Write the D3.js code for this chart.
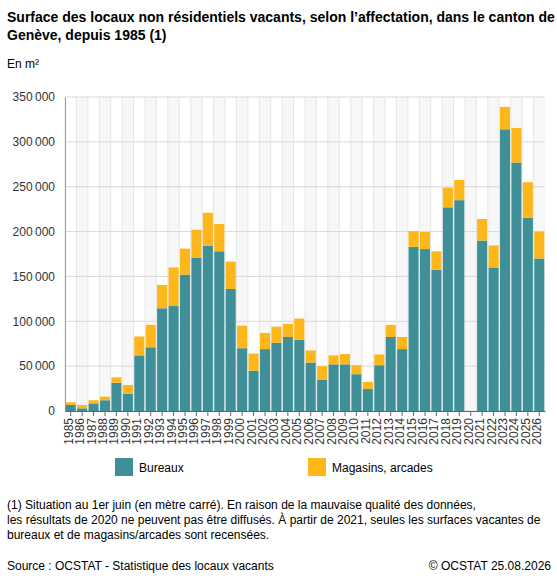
<!DOCTYPE html>
<html><head><meta charset="utf-8">
<script src="https://cdn.jsdelivr.net/npm/d3@7"></script>
<style>
body{margin:0;font-family:"Liberation Sans",Arial,sans-serif;color:#333;}
</style></head><body><div id="chart"></div>
<script>
var years = d3.range(1985, 2027).map(String);
var bureaux =   [6.7,3,8.5,12,31.5,19,62,71,114.5,117,152,171,184,178,136,70,45,69,76,82.5,79.5,54,35,52,52,41,24.5,51,82.5,69,183,180.5,157.5,227,235,null,190,160,314,277,215.5,170];
var magasins = [3,3.7,3.5,4,6,10,21,25,26,43,29,31,37,30.5,30.5,25,19,18,18,14.5,23.5,13.5,15,10,11.5,10,8,12,13.5,13.5,17.5,19,20.5,22,22.5,null,24,24.5,25,38.5,39.5,30];
var yTicks = [0,50000,100000,150000,200000,250000,300000,350000];

var W = 557, H = 582;
var m = {left:65, right:545, top:97, bottom:411};
var svg = d3.select("#chart").append("svg").attr("width", W).attr("height", H)
  .style("font-family", "'Liberation Sans',Arial,sans-serif");

var x = d3.scaleBand().domain(years).range([m.left, m.right]).paddingInner(0.12).paddingOuter(0.06);
var y = d3.scaleLinear().domain([0, 350000]).range([m.bottom, m.top]);
var step = x.step();

// alternating bands + vertical grid
years.forEach(function(yr, i){
  var x0 = m.left + i * (m.right - m.left) / years.length;
  if(i % 2 == 1) svg.append("rect").attr("x", x0).attr("y", m.top).attr("width", (m.right - m.left)/years.length)
    .attr("height", m.bottom - m.top).attr("fill", "#f7f7f7");
  svg.append("line").attr("x1", x0).attr("x2", x0).attr("y1", m.top).attr("y2", m.bottom).attr("stroke", "#e6e6e6");
});
svg.selectAll(".hg").data(yTicks).enter().append("line")
  .attr("x1", m.left).attr("x2", m.right).attr("y1", d => y(d)).attr("y2", d => y(d))
  .attr("stroke", "#d9d9d9");

var fmt = d => d3.format(",")(d).replace(/,/g, "\u202f");
svg.append("g").attr("transform", "translate(" + m.left + ",0)")
  .call(d3.axisLeft(y).tickValues(yTicks).tickFormat(fmt).tickSize(0).tickPadding(10))
  .call(g => g.select(".domain").attr("stroke", "#999"))
  .selectAll("text").attr("font-size", 12).attr("fill", "#333").style("font-family", "inherit");

var data = years.map((yr, i) => ({yr: yr, b: bureaux[i] == null ? 0 : bureaux[i]*1000, m: magasins[i] == null ? 0 : magasins[i]*1000}));
svg.selectAll(".b").data(data).enter().append("rect")
  .attr("x", d => x(d.yr)).attr("width", x.bandwidth())
  .attr("y", d => y(d.b)).attr("height", d => y(0) - y(d.b)).attr("fill", "#3e8f98");
svg.selectAll(".m").data(data).enter().append("rect")
  .attr("x", d => x(d.yr)).attr("width", x.bandwidth())
  .attr("y", d => y(d.b + d.m)).attr("height", d => y(d.b) - y(d.b + d.m)).attr("fill", "#fdb71a");

svg.append("g").attr("transform", "translate(0," + m.bottom + ")")
  .call(d3.axisBottom(x).tickSize(5).tickSizeOuter(0))
  .call(g => g.select(".domain").attr("stroke", "#666"))
  .call(g => g.selectAll(".tick line").attr("stroke", "#666"))
  .selectAll("text").attr("font-size", 12).attr("fill", "#333").style("font-family", "inherit")
  .attr("transform", "rotate(-90)").attr("text-anchor", "end").attr("dx", "-7").attr("dy", "-0.5em");

svg.append("text").attr("x", 7).attr("y", 22).attr("font-size", 14).attr("font-weight", "bold")
  .text("Surface des locaux non résidentiels vacants, selon l’affectation, dans le canton de");
svg.append("text").attr("x", 7).attr("y", 40).attr("font-size", 14).attr("font-weight", "bold")
  .text("Genève, depuis 1985 (1)");
svg.append("text").attr("x", 7).attr("y", 68).attr("font-size", 12).text("En m²");

[["Bureaux", "#3e8f98", 115], ["Magasins, arcades", "#fdb71a", 308]].forEach(function(l){
  svg.append("rect").attr("x", l[2]).attr("y", 458).attr("width", 18).attr("height", 18).attr("fill", l[1]);
  svg.append("text").attr("x", l[2] + 24).attr("y", 472).attr("font-size", 12).text(l[0]);
});

["(1) Situation au 1er juin (en mètre carré). En raison de la mauvaise qualité des données,",
 "les résultats de 2020 ne peuvent pas être diffusés. À partir de 2021, seules les surfaces vacantes de",
 "bureaux et de magasins/arcades sont recensées."].forEach(function(t, i){
  svg.append("text").attr("x", 7).attr("y", 509 + i*15).attr("font-size", 12).text(t);
});
svg.append("text").attr("x", 7).attr("y", 570).attr("font-size", 12).text("Source : OCSTAT - Statistique des locaux vacants");
svg.append("text").attr("x", 551).attr("y", 570).attr("font-size", 12).attr("text-anchor", "end").text("© OCSTAT 25.08.2026");
</script></body></html>
